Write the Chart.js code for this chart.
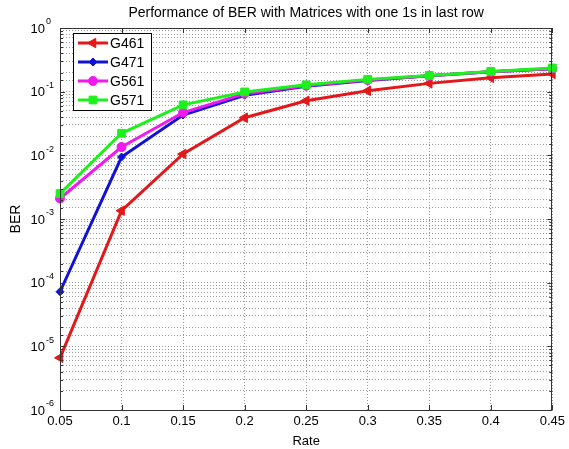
<!DOCTYPE html>
<html>
<head>
<meta charset="utf-8">
<script src="https://cdn.jsdelivr.net/npm/chart.js@4/dist/chart.umd.min.js"></script>
<style>
  html, body { margin: 0; padding: 0; background: #fff; }
  #wrap { width: 569px; height: 449px; position: relative; }
</style>
</head>
<body>
<div id="wrap"><canvas id="chart"></canvas></div>
<script>
const rates = ["0.05", "0.1", "0.15", "0.2", "0.25", "0.3", "0.35", "0.4", "0.45"];
const g461 = [6.6e-6, 1.35e-3, 0.0105, 0.039, 0.072, 0.103, 0.135, 0.165, 0.19];
const g471 = [7.2e-5, 0.0094, 0.043, 0.088, 0.122, 0.15, 0.178, 0.205, 0.23];
const g561 = [2.1e-3, 0.0135, 0.047, 0.093, 0.124, 0.152, 0.178, 0.205, 0.23];
const g571 = [2.5e-3, 0.0222, 0.062, 0.099, 0.128, 0.156, 0.18, 0.208, 0.235];
const decadeExps = [0, -1, -2, -3, -4, -5, -6];

const FONT = "'Liberation Sans', Arial, sans-serif";

// box, ticks, superscript labels and legend, matlab style
const matlabAxes = {
  id: "matlabAxes",
  afterDraw(chart) {
    const ctx = chart.ctx;
    const area = chart.chartArea;
    const xs = chart.scales.x;
    const ys = chart.scales.y;
    ctx.save();
    ctx.strokeStyle = "#333";
    ctx.lineWidth = 1;
    ctx.strokeRect(Math.round(area.left) + 0.5, Math.round(area.top) + 0.5,
      Math.round(area.right - area.left) - 1, Math.round(area.bottom - area.top));

    // x ticks
    ctx.beginPath();
    rates.forEach((r, i) => {
      const px = Math.round(xs.getPixelForValue(i)) + 0.5;
      ctx.moveTo(px, area.bottom); ctx.lineTo(px, area.bottom - 5);
      ctx.moveTo(px, area.top); ctx.lineTo(px, area.top + 5);
    });
    // y ticks
    ys.ticks.forEach((t) => {
      const py = Math.round(ys.getPixelForValue(t.value)) + 0.5;
      const len = t.major ? 5 : 3;
      ctx.moveTo(area.left, py); ctx.lineTo(area.left + len, py);
      ctx.moveTo(area.right, py); ctx.lineTo(area.right - len, py);
    });
    ctx.stroke();

    // y labels 10^n
    ctx.fillStyle = "#000";
    decadeExps.forEach((e) => {
      const py = ys.getPixelForValue(Math.pow(10, e));
      ctx.font = "13px " + FONT;
      ctx.textAlign = "right";
      ctx.textBaseline = "middle";
      ctx.fillText("10", 45, py + 1);
      ctx.font = "9px " + FONT;
      ctx.textAlign = "left";
      ctx.fillText(String(e), 46, py - 6);
    });

    // legend
    const lx = 73, ly = 33, lw = 78, lh = 77;
    ctx.fillStyle = "#fff";
    ctx.fillRect(lx, ly, lw, lh);
    ctx.strokeStyle = "#000";
    ctx.strokeRect(lx + 0.5, ly + 0.5, lw, lh);
    chart.data.datasets.forEach((ds, i) => {
      const y = 43 + i * 19;
      ctx.strokeStyle = ds.borderColor;
      ctx.lineWidth = ds.borderWidth;
      ctx.beginPath();
      ctx.moveTo(78, y); ctx.lineTo(108, y);
      ctx.stroke();
      ctx.fillStyle = ds.borderColor;
      ctx.strokeStyle = ds.borderColor;
      ctx.lineWidth = 1;
      Chart.helpers.drawPoint(ctx, {
        pointStyle: ds.pointStyle, radius: ds.pointRadius,
        rotation: ds.pointRotation || 0, borderWidth: 1
      }, 93, y);
      ctx.fillStyle = "#000";
      ctx.font = "14px " + FONT;
      ctx.textAlign = "left";
      ctx.textBaseline = "middle";
      ctx.fillText(ds.label, 110, y + 1);
    });
    ctx.restore();
  }
};

function series(label, data, color, style, radius, rotation, order) {
  return {
    label: label,
    data: data,
    borderColor: color,
    backgroundColor: color,
    borderWidth: 3,
    pointStyle: style,
    pointRadius: radius,
    pointRotation: rotation,
    pointBorderWidth: 1,
    pointBackgroundColor: color,
    pointBorderColor: color,
    tension: 0,
    order: order
  };
}

const ctx = document.getElementById("chart").getContext("2d");
new Chart(ctx, {
  type: "line",
  data: {
    labels: rates,
    datasets: [
      series("G461", g461, "#e3181a", "triangle", 5.5, -90, 4),
      series("G471", g471, "#1212d6", "rectRot", 4, 0, 3),
      series("G561", g561, "#f01af0", "circle", 4.5, 0, 2),
      series("G571", g571, "#1ef01e", "rect", 5.5, 0, 1)
    ]
  },
  options: {
    responsive: true,
    maintainAspectRatio: false,
    animation: false,
    layout: { padding: { left: 0, right: 14, top: 0, bottom: 0 } },
    plugins: {
      legend: { display: false },
      tooltip: { enabled: false },
      title: {
        display: true,
        fullSize: false,
        text: "Performance of BER with Matrices with one 1s in last row",
        color: "#000",
        font: { family: FONT, size: 14, weight: "normal" },
        padding: { top: 5, bottom: 6.2 }
      }
    },
    scales: {
      x: {
        type: "category",
        offset: false,
        grid: { color: "#999", lineWidth: 1, drawTicks: false },
        border: { display: false, dash: [1, 2] },
        ticks: { color: "#000", font: { family: FONT, size: 13 }, padding: 4, maxRotation: 0, autoSkip: false },
        title: { display: true, text: "Rate", color: "#000", font: { family: FONT, size: 13 }, padding: { top: 3.4, bottom: 0 } },
        afterFit(scale) { scale.height = 39; }
      },
      y: {
        type: "logarithmic",
        min: 1e-6,
        max: 1,
        grid: { color: "#999", lineWidth: 1, drawTicks: false },
        border: { display: false, dash: [1, 2] },
        ticks: { display: false },
        title: { display: true, text: "BER", color: "#000", font: { family: FONT, size: 14 }, padding: { top: 8, bottom: 0 } },
        afterFit(scale) { scale.width = 60; }
      }
    }
  },
  plugins: [matlabAxes]
});
</script>
</body>
</html>
